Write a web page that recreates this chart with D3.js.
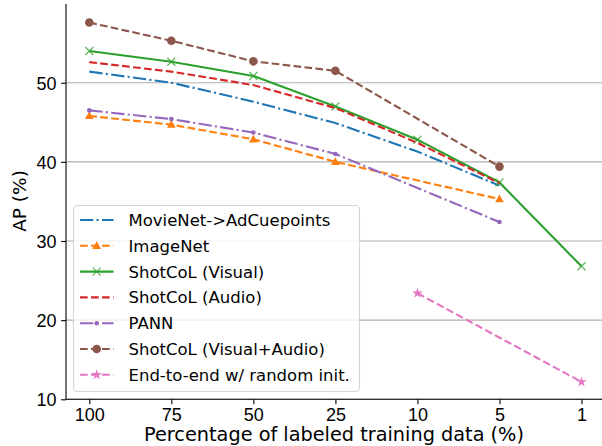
<!DOCTYPE html>
<html>
<head>
<meta charset="utf-8">
<script src="https://cdn.jsdelivr.net/npm/d3@7"></script>
<style>
  body { margin: 0; background: #fff; }
  svg { font-family: "DejaVu Sans", sans-serif; }
</style>
</head>
<body>
<div id="chart"></div>
<script>
// categories on the x axis (percentage of labeled data)
var categories = ["100", "75", "50", "25", "10", "5", "1"];
var yTicks = [10, 20, 30, 40, 50];

// AP values per method, null where the method was not run
var movieNet   = [51.4, 50.0, 47.6, 44.9, 41.3, 37.0, null];
var imageNet   = [45.8, 44.7, 42.85, 40.0, null, 35.3, null];
var shotVisual = [54.0, 52.65, 50.85, 47.0, 42.8, 37.4, 26.8];
var shotAudio  = [52.6, 51.4, 49.7, 46.8, 42.4, 37.3, null];
var pann       = [46.5, 45.4, 43.7, 41.0, null, 32.4, null];
var shotVA     = [57.6, 55.3, 52.7, 51.5, null, 39.4, null];
var endToEnd   = [null, null, null, null, 23.4, null, 12.2];

var series = [
    {name: "MovieNet->AdCuepoints",      values: movieNet,   color: "#1f77b4", dash: "13.3,3.3,2.1,3.3", marker: null},
    {name: "ImageNet",                   values: imageNet,   color: "#ff7f0e", dash: "7.7,3.3", marker: "triangle"},
    {name: "ShotCoL (Visual)",           values: shotVisual, color: "#2ca02c", dash: null,      marker: "x"},
    {name: "ShotCoL (Audio)",            values: shotAudio,  color: "#d62728", dash: "7.7,3.3", marker: null},
    {name: "PANN",                       values: pann,       color: "#9467bd", dash: "13.3,3.3,2.1,3.3", marker: "dot"},
    {name: "ShotCoL (Visual+Audio)",     values: shotVA,     color: "#8c564b", dash: "7.7,3.3", marker: "circle"},
    {name: "End-to-end w/ random init.", values: endToEnd,   color: "#e377c2", dash: "7.7,3.3", marker: "star"}
];

var width = 602, height = 446;
var plot = {left: 66, right: 602, top: 4, bottom: 399.3};

var svg = d3.select("#chart").append("svg")
    .attr("width", width)
    .attr("height", height);

var x = d3.scaleLinear().domain([0, categories.length - 1]).range([89.3, 581.5]);
var y = d3.scaleLinear().domain([10, 50]).range([399.3, 82.7]);

// grid
svg.append("g").selectAll("line").data(yTicks).enter().append("line")
    .attr("x1", plot.left).attr("x2", plot.right)
    .attr("y1", function(d){ return y(d); })
    .attr("y2", function(d){ return y(d); })
    .style("stroke", "#b0b0b0").style("stroke-width", 1.1);

// axes
var yAxis = d3.axisLeft(y).tickValues(yTicks).tickSize(4.9).tickPadding(4.5);
var gy = svg.append("g").attr("transform", "translate(" + plot.left + ",0)").call(yAxis);
gy.select(".domain").remove();
gy.selectAll(".tick line").style("stroke-width", 1.1);
gy.selectAll("text").style("font-size", "18px").attr("dy", "0.36em");

var xAxis = d3.axisBottom(x).tickValues(d3.range(categories.length))
    .tickFormat(function(i){ return categories[i]; })
    .tickSize(4.9).tickPadding(4.5);
var gx = svg.append("g").attr("transform", "translate(0," + plot.bottom + ")").call(xAxis);
gx.select(".domain").remove();
gx.selectAll(".tick line").style("stroke-width", 1.1);
gx.selectAll("text").style("font-size", "18px");

// spines
svg.append("line").attr("x1", plot.left).attr("x2", plot.left)
    .attr("y1", plot.top).attr("y2", plot.bottom)
    .style("stroke", "#000").style("stroke-width", 1.1);
svg.append("line").attr("x1", plot.left).attr("x2", plot.right)
    .attr("y1", plot.bottom).attr("y2", plot.bottom)
    .style("stroke", "#000").style("stroke-width", 1.1);

// labels
svg.append("text").attr("x", 334).attr("y", 441)
    .style("text-anchor", "middle").style("font-size", "19.3px")
    .text("Percentage of labeled training data (%)");
svg.append("text").attr("transform", "translate(25.5,201) rotate(-90)")
    .style("text-anchor", "middle").style("font-size", "18.5px")
    .text("AP (%)");

var drawMarker = function(g, type, color){
    if(type == "circle") {
        g.append("circle").attr("r", 4.3).style("fill", color);
    } else if(type == "dot") {
        g.append("circle").attr("r", 2.3).style("fill", color);
    } else if(type == "triangle") {
        g.append("path").attr("d", "M0,-4.6L4.4,3.1L-4.4,3.1Z").style("fill", color);
    } else if(type == "x") {
        g.append("path").attr("d", "M-4,-4L4,4M-4,4L4,-4")
            .style("stroke", color).style("stroke-width", 1.3).style("fill", "none")
            .style("opacity", 0.75);
    } else if(type == "star") {
        g.append("path").attr("d", d3.symbol().type(d3.symbolStar).size(34)())
            .style("fill", color);
    }
};

var line = d3.line()
    .x(function(d){ return x(d.i); })
    .y(function(d){ return y(d.v); });

var lines = svg.append("g");
series.forEach(function(s){
    var pts = s.values.map(function(v, i){ return {i: i, v: v}; })
        .filter(function(d){ return d.v !== null; });
    var g = lines.append("g");
    g.append("path").datum(pts)
        .attr("d", line)
        .style("fill", "none")
        .style("stroke", s.color)
        .style("stroke-width", 2.1)
        .style("stroke-dasharray", s.dash);
    if(s.marker) {
        pts.forEach(function(d){
            var m = g.append("g").attr("transform", "translate(" + x(d.i) + "," + y(d.v) + ")");
            drawMarker(m, s.marker, s.color);
        });
    }
});

// legend
var legend = svg.append("g");
legend.append("rect")
    .attr("x", 73.5).attr("y", 205.5).attr("width", 286).attr("height", 186)
    .attr("rx", 4).attr("ry", 4)
    .style("fill", "rgba(255,255,255,0.8)")
    .style("stroke", "#d5d5d5").style("stroke-width", 1.1);
series.forEach(function(s, k){
    var cy = 220 + k * 25.8;
    var row = legend.append("g").attr("transform", "translate(0," + cy + ")");
    row.append("line").attr("x1", 80).attr("x2", 113.5).attr("y1", 0).attr("y2", 0)
        .style("stroke", s.color).style("stroke-width", 2.1)
        .style("stroke-dasharray", s.dash);
    if(s.marker) {
        var m = row.append("g").attr("transform", "translate(96.7,0)");
        drawMarker(m, s.marker, s.color);
    }
    row.append("text").attr("x", 128.5).attr("y", 0).attr("dy", "0.36em")
        .style("font-size", "16.5px")
        .text(s.name);
});
</script>
</body>
</html>
